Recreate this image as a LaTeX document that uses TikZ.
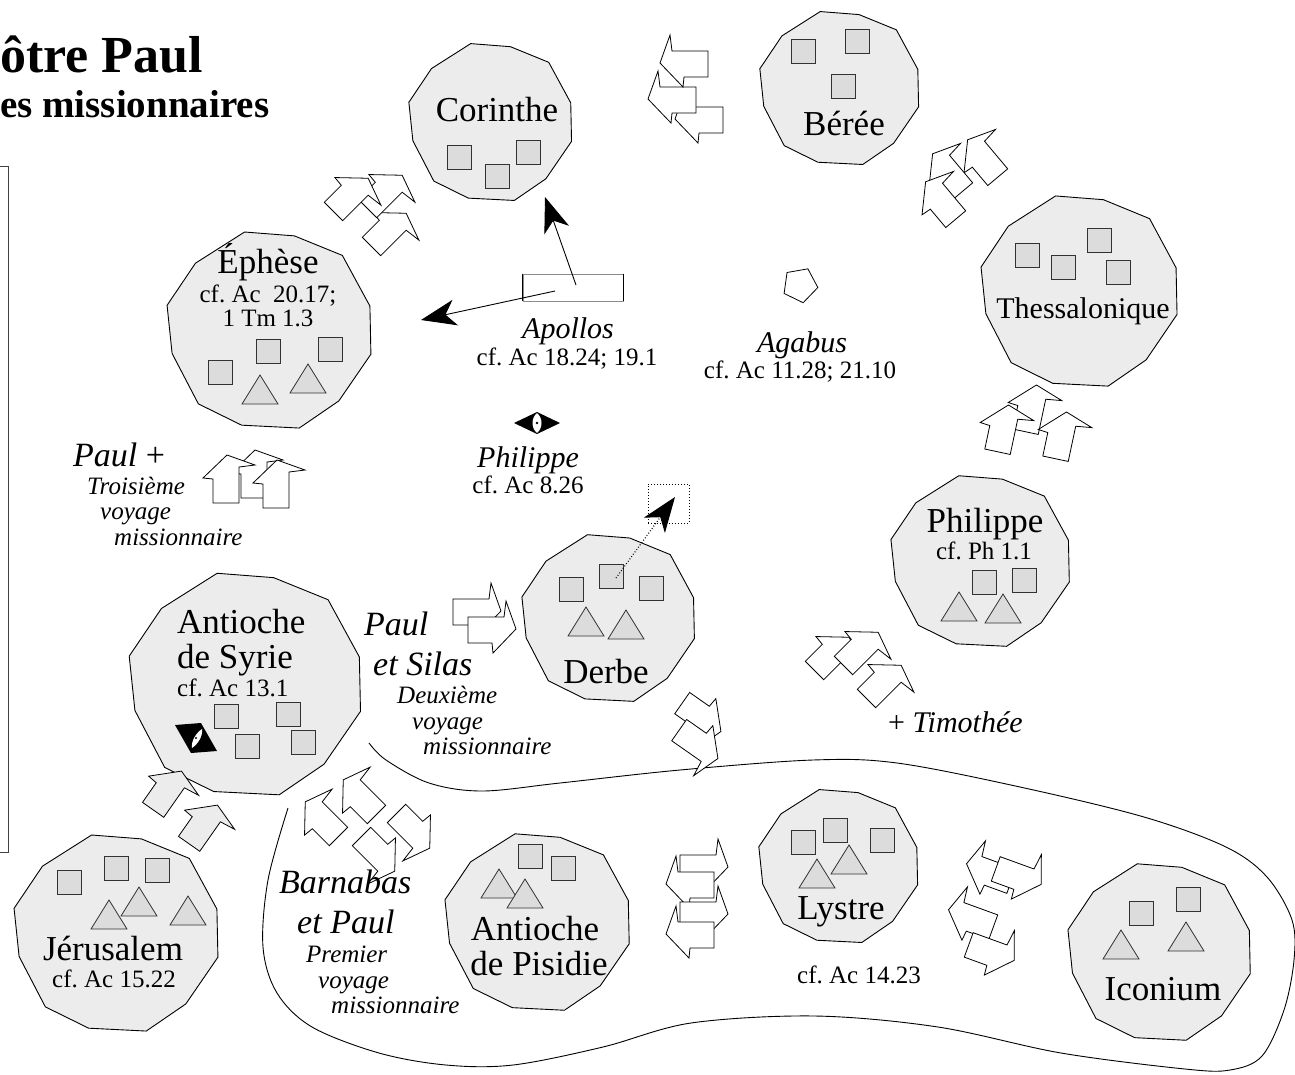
\documentclass[tikz,border=0pt]{standalone}
\usepackage{fontspec}
\setmainfont{Liberation Serif}
\usetikzlibrary{shapes.geometric,arrows.meta}
\definecolor{cityfill}{RGB}{236,236,236}
\definecolor{sqfill}{RGB}{220,220,220}
\definecolor{sqdraw}{RGB}{50,50,50}
\frenchspacing
\newcommand\cityblob[4]{%
  \coordinate (#1) at (#2);
  \path[city, shift={(#2)}] ({#3*cos(14)},{#4*sin(14)})
    \foreach \a/\f in {47/0.97,74/1.02,106/0.99,133/1.01,166/0.97,194/1.02,223/0.98,256/1.01,284/0.97,313/1.02,346/0.99}
    { -- ({#3*\f*cos(\a)},{#4*\f*sin(\a)}) } -- cycle;}
\newcommand\sqr[2]{\path[sq] (#1-12,#2-12) rectangle (#1+12,#2+12);}
\newcommand\tri[2]{\path[tri] (#1,#2) -- (#1+18,#2+29) -- (#1-18,#2+29) -- cycle;}
\newcommand\ba[3]{\pic[rotate=#3-90] at (#1,#2) {barrow};}
\newcommand\baf[3]{\pic[rotate=#3-90, xscale=-1] at (#1,#2) {barrow};}
\newcommand\bag[3]{\pic[rotate=#3-90] at (#1,#2) {barrowg};}
\tikzset{
  city/.style={draw=black, fill=cityfill, line width=0.9pt},
  sq/.style={draw=sqdraw, fill=sqfill, line width=0.9pt},
  tri/.style={draw=sqdraw, fill=sqfill, line width=0.8pt},
  blk/.style={draw=black, fill=white, line width=0.8pt},
  blkg/.style={draw=black, fill=cityfill, line width=0.8pt},
  barrow/.pic={\path[blk] (-13,12) -- (-13,-12) -- (-23,-13) -- (1,-36) -- (29,-26) -- (13,-24) -- (13,12) -- cycle;},
  barrowg/.pic={\path[blkg] (-13,12) -- (-13,-12) -- (-23,-13) -- (1,-36) -- (29,-26) -- (13,-24) -- (13,12) -- cycle;},
  cname/.style={font=\fontsize{35}{36}\selectfont, inner sep=0pt, anchor=base},
  cnamel/.style={font=\fontsize{35}{36}\selectfont, inner sep=0pt, anchor=base west},
  cite/.style={font=\fontsize{25}{26}\selectfont, inner sep=0pt, anchor=base},
  citel/.style={font=\fontsize{25}{26}\selectfont, inner sep=0pt, anchor=base west},
  bigit/.style={font=\itshape\fontsize{34}{35}\selectfont, inner sep=0pt, anchor=base west},
  midit/.style={font=\itshape\fontsize{30}{31}\selectfont, inner sep=0pt, anchor=base},
  smit/.style={font=\itshape\fontsize{25}{26}\selectfont, inner sep=0pt, anchor=base west},
  bigarrow/.style={line width=0.9pt, -{Stealth[length=35pt,width=26pt,inset=10pt]}},
}
\begin{document}
\begin{tikzpicture}[x=1pt,y=-1pt]
\useasboundingbox (0,0) rectangle (1295,1074);
\fill[white] (0,0) rectangle (1295,1074);

% title
\node[font=\bfseries\fontsize{52}{52}\selectfont, inner sep=0pt, anchor=base west] (title1) at (0,72) {ôtre Paul};
\node[font=\bfseries\fontsize{39}{39}\selectfont, inner sep=0pt, anchor=base west] (title2) at (0,117) {es missionnaires};
\draw[line width=1pt, black!75] (0,166) -- (8,166) -- (8,852) -- (0,852);

% cities
\cityblob{cor}{491,122}{83}{80}
\cityblob{ber}{840,88}{81}{78}
\cityblob{eph}{270,330}{104}{100}
\cityblob{the}{1080,291}{100}{97}
\cityblob{phi}{981,561}{91}{87}
\cityblob{der}{609,618}{88}{85}
\cityblob{ant}{246,684}{118}{113}
\cityblob{jer}{117,933}{104}{100}
\cityblob{pis}{538,922}{94}{90}
\cityblob{lys}{839,866}{81}{78}
\cityblob{ico}{1160,952}{93}{90}

% squares
\sqr{459}{157}\sqr{497}{176}\sqr{528}{152}
\sqr{803}{51}\sqr{857}{41}\sqr{843}{86}
\sqr{220}{372}\sqr{268}{351}\sqr{330}{349}
\sqr{1027}{255}\sqr{1063}{267}\sqr{1099}{240}\sqr{1118}{272}
\sqr{984}{582}\sqr{1024}{580}
\sqr{571}{589}\sqr{611}{576}\sqr{651}{588}
\sqr{226}{716}\sqr{288}{714}\sqr{247}{746}\sqr{303}{742}
\sqr{69}{882}\sqr{116}{868}\sqr{157}{870}
\sqr{530}{856}\sqr{563}{868}
\sqr{803}{842}\sqr{835}{830}\sqr{882}{840}
\sqr{1141}{913}\sqr{1188}{899}

% triangles
\tri{260}{375}\tri{308}{364}
\tri{959}{592}\tri{1003}{594}
\tri{586}{607}\tri{626}{610}
\tri{139}{887}\tri{109}{900}\tri{188}{896}
\tri{499}{869}\tri{525}{879}
\tri{849}{845}\tri{817}{859}
\tri{1121}{930}\tri{1186}{922}

% region boundary
\draw[line width=0.9pt] plot[smooth, tension=0.55] coordinates {(369,743) (386,760) (429,783) (482,791) (560,783) (680,770) (813,760) (897,763) (1020,787) (1144,817) (1226,847) (1267,877) (1292,920) (1294,960) (1284,1010) (1262,1056) (1230,1070) (1185,1069) (1061,1053) (938,1027) (815,1016) (691,1023) (603,1047) (513,1065) (446,1065) (379,1053) (312,1027) (277,993) (263,947) (268,880) (288,808)};

% arrow clusters
\ba{380}{238}{45}\ba{376}{200}{45}\ba{342}{203}{45}
\ba{711}{120}{180}\ba{684}{100}{180}\ba{696}{64}{180}
\ba{990}{168}{130}\ba{955}{182}{130}\ba{948}{210}{130}
\ba{1028}{420}{78}\ba{1000}{440}{78}\ba{1058}{447}{78}
\ba{823}{662}{45}\ba{852}{657}{45}\ba{875}{690}{45}
\ba{692}{710}{-35}\ba{689}{737}{-35}
\bag{160}{800}{55}\bag{196}{834}{55}
\baf{465}{612}{0}\baf{480}{630}{0}
\ba{330}{828}{135}\ba{368}{806}{135}\ba{405}{822}{-45}\ba{370}{845}{-45}
\baf{692}{868}{0}\ba{702}{885}{180}\baf{692}{915}{0}\ba{702}{935}{180}
\ba{1000}{877}{160}\baf{1007}{873}{-20}\ba{982}{923}{160}\baf{980}{949}{-20}
\ba{254}{486}{90}\ba{226}{491}{90}\ba{276}{496}{90}

% Apollos
\node[draw=black!45, line width=0.8pt, minimum width=100pt, minimum height=27pt, inner sep=0pt] (apbox) at (573,287.5) {};
\draw[line width=1pt] (apbox.north west) -- (apbox.south west) (apbox.north east) -- (apbox.south east);
\coordinate (apA) at (576,285);
\coordinate (apB) at (555,291);
\coordinate (corT) at (545,197);
\coordinate (ephT) at (421,320);
\draw[bigarrow] (apA) -- (corT);
\draw[bigarrow] (apB) -- (ephT);

% Derbe dotted arrow
\node[draw, dotted, line width=1pt, minimum width=41pt, minimum height=39pt, inner sep=0pt] (dbox) at (668.5,503.5) {};
\coordinate (derS) at (616,578);
\coordinate (derT) at (675,497);
\draw[bigarrow, dotted, line width=1.1pt] (derS) -- (derT);

% Agabus pentagon
\node[regular polygon, regular polygon sides=5, draw, line width=0.8pt, minimum size=36pt, inner sep=0pt, shape border rotate=190] (agsym) at (800,285) {};

% Philippe symbol
\coordinate (phsym) at (537,423);
\fill (514,423) -- (537,412) -- (560,423) -- (537,434) -- cycle;
\fill[white] (537,413) .. controls (543,418) and (543,428) .. (537,433) .. controls (531,428) and (531,418) .. (537,413);
\fill (phsym) circle (1.3pt);

% Antioche symbol
\coordinate (antsym) at (196,738);
\fill (175,725) -- (201,723) -- (217,751) -- (191,753) -- cycle;
\fill[white] (202,729) .. controls (203,736) and (198,744) .. (192,748) .. controls (191,741) and (196,733) .. (202,729);
\fill (antsym) circle (1.2pt);

% city names
\node[cname] (corN) at (497,121) {Corinthe};
\node[cname] (berN) at (844,135) {Bérée};
\node[cname] (ephN) at (268,273) {Éphèse};
\node[cite] (ephC1) at (268,302) {cf. Ac\ \ 20.17;};
\node[cite] (ephC2) at (268,326) {1 Tm 1.3};
\node[cname, font=\fontsize{30}{31}\selectfont] (theN) at (1083,318) {Thessalonique};
\node[cname] (phiN) at (985,532) {Philippe};
\node[cite] (phiC) at (984,559) {cf. Ph 1.1};
\node[cname] (derN) at (606,683) {Derbe};
\node[cnamel] (antN1) at (177,633) {Antioche};
\node[cnamel] (antN2) at (177,668) {de Syrie};
\node[citel] (antC) at (177,696) {cf. Ac 13.1};
\node[cname] (jerN) at (113,960) {Jérusalem};
\node[cite] (jerC) at (114,987) {cf. Ac 15.22};
\node[cname] (pisN1) at (535,940) {Antioche};
\node[cname] (pisN2) at (539,975) {de Pisidie};
\node[cname] (lysN) at (841,919) {Lystre};
\node[cite] (lysC) at (859,983) {cf. Ac 14.23};
\node[cname] (icoN) at (1163,1000) {Iconium};

% labels
\node[midit] (apL) at (568,338) {Apollos};
\node[cite] (apC) at (567,365) {cf. Ac 18.24; 19.1};
\node[midit] (agL) at (802,352) {Agabus};
\node[cite] (agC) at (800,378) {cf. Ac 11.28; 21.10};
\node[midit] (phL) at (528,467) {Philippe};
\node[cite] (phC) at (528,493) {cf. Ac 8.26};
\node[bigit] (p3a) at (73,466) {Paul \upshape+};
\node[smit] (p3b) at (87,494) {Troisième};
\node[smit] (p3c) at (100,519) {voyage};
\node[smit] (p3d) at (114,545) {missionnaire};
\node[bigit] (p2a) at (364,635) {Paul};
\node[bigit] (p2b) at (373,675) {et Silas};
\node[smit] (p2c) at (397,703) {Deuxième};
\node[smit] (p2d) at (412,729) {voyage};
\node[smit] (p2e) at (423,754) {missionnaire};
\node[bigit] (p1a) at (279,893) {Barnabas};
\node[bigit] (p1b) at (297,933) {et Paul};
\node[smit] (p1c) at (306,962) {Premier};
\node[smit] (p1d) at (318,988) {voyage};
\node[smit] (p1e) at (331,1013) {missionnaire};
\node[font=\fontsize{30}{31}\selectfont, inner sep=0pt, anchor=base west] (tim) at (888,732) {+ \itshape Timothée};
\end{tikzpicture}
\end{document}
